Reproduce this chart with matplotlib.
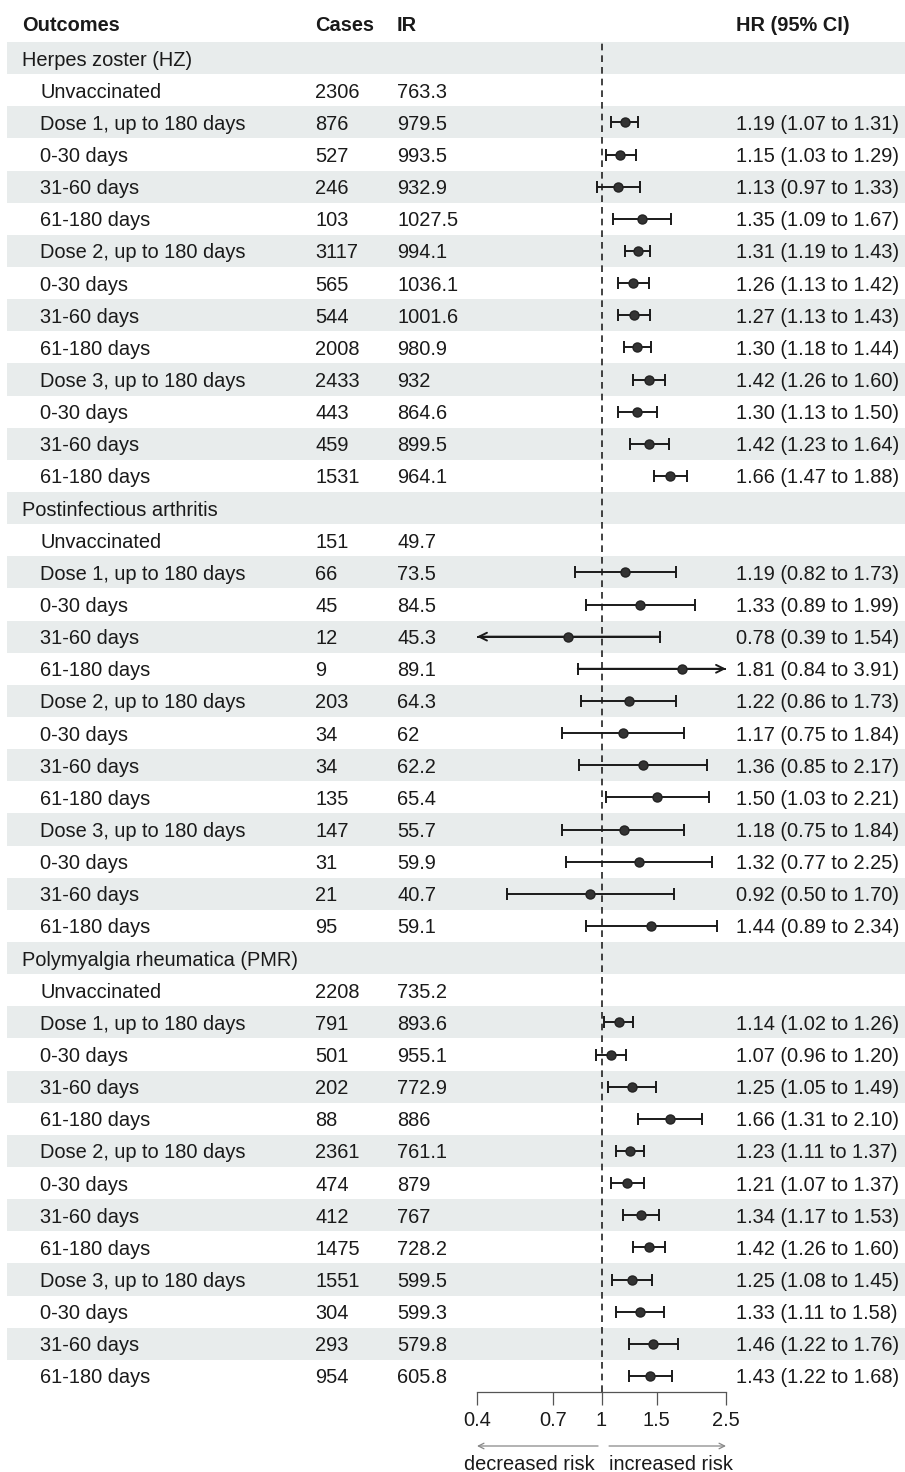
import matplotlib.pyplot as plt
import numpy as np

plt.rcParams['font.family'] = ['Liberation Sans', 'DejaVu Sans']

groups = ["Herpes zoster (HZ)", "Postinfectious arthritis", "Polymyalgia rheumatica (PMR)"]
periods = ["Unvaccinated", "Dose 1, up to 180 days", "0-30 days", "31-60 days", "61-180 days",
           "Dose 2, up to 180 days", "0-30 days", "31-60 days", "61-180 days",
           "Dose 3, up to 180 days", "0-30 days", "31-60 days", "61-180 days"]

hz_cases = [2306, 876, 527, 246, 103, 3117, 565, 544, 2008, 2433, 443, 459, 1531]
hz_ir = ["763.3", "979.5", "993.5", "932.9", "1027.5", "994.1", "1036.1", "1001.6", "980.9",
         "932", "864.6", "899.5", "964.1"]
hz_hr = [None, 1.19, 1.15, 1.13, 1.35, 1.31, 1.26, 1.27, 1.30, 1.42, 1.30, 1.42, 1.66]
hz_lo = [None, 1.07, 1.03, 0.97, 1.09, 1.19, 1.13, 1.13, 1.18, 1.26, 1.13, 1.23, 1.47]
hz_hi = [None, 1.31, 1.29, 1.33, 1.67, 1.43, 1.42, 1.43, 1.44, 1.60, 1.50, 1.64, 1.88]

pa_cases = [151, 66, 45, 12, 9, 203, 34, 34, 135, 147, 31, 21, 95]
pa_ir = ["49.7", "73.5", "84.5", "45.3", "89.1", "64.3", "62", "62.2", "65.4", "55.7",
         "59.9", "40.7", "59.1"]
pa_hr = [None, 1.19, 1.33, 0.78, 1.81, 1.22, 1.17, 1.36, 1.50, 1.18, 1.32, 0.92, 1.44]
pa_lo = [None, 0.82, 0.89, 0.39, 0.84, 0.86, 0.75, 0.85, 1.03, 0.75, 0.77, 0.50, 0.89]
pa_hi = [None, 1.73, 1.99, 1.54, 3.91, 1.73, 1.84, 2.17, 2.21, 1.84, 2.25, 1.70, 2.34]

pmr_cases = [2208, 791, 501, 202, 88, 2361, 474, 412, 1475, 1551, 304, 293, 954]
pmr_ir = ["735.2", "893.6", "955.1", "772.9", "886", "761.1", "879", "767", "728.2",
          "599.5", "599.3", "579.8", "605.8"]
pmr_hr = [None, 1.14, 1.07, 1.25, 1.66, 1.23, 1.21, 1.34, 1.42, 1.25, 1.33, 1.46, 1.43]
pmr_lo = [None, 1.02, 0.96, 1.05, 1.31, 1.11, 1.07, 1.17, 1.26, 1.08, 1.11, 1.22, 1.22]
pmr_hi = [None, 1.26, 1.20, 1.49, 2.10, 1.37, 1.37, 1.53, 1.60, 1.45, 1.58, 1.76, 1.68]

x_ticks = [0.4, 0.7, 1, 1.5, 2.5]
x_ticklabels = ["0.4", "0.7", "1", "1.5", "2.5"]

# build rows: group header followed by its periods
rows = []
blocks = [(hz_cases, hz_ir, hz_hr, hz_lo, hz_hi),
          (pa_cases, pa_ir, pa_hr, pa_lo, pa_hi),
          (pmr_cases, pmr_ir, pmr_hr, pmr_lo, pmr_hi)]
for g, (cases, ir, hr, lo, hi) in zip(groups, blocks):
    rows.append(dict(label=g, header=True))
    for i, p in enumerate(periods):
        rows.append(dict(label=p, header=False, cases=cases[i], ir=ir[i],
                         hr=hr[i], lo=lo[i], hi=hi[i]))

n = len(rows)
W, H = 905, 1472
top_px, bot_px = 42, 1392
fs = 14.4
txt = '#1a1a1a'
va = 'center_baseline'

fig = plt.figure(figsize=(W / 100, H / 100), dpi=100)
ax_box = [0, 1 - bot_px / H, 1, (bot_px - top_px) / H]
ax = fig.add_axes(ax_box)
ax.set_xlim(0, W)
ax.set_ylim(n - 0.5, -0.5)
ax.axis('off')

for i, r in enumerate(rows):
    if i % 2 == 0:
        ax.axhspan(i - 0.5, i + 0.5, xmin=7 / W, xmax=1, color='#E8ECEC', lw=0, zorder=0)
    if r['header']:
        ax.text(22, i, r['label'], fontsize=fs, va=va, color=txt)
        continue
    ax.text(40, i, r['label'], fontsize=fs, va=va, color=txt)
    ax.text(315, i, str(r['cases']), fontsize=fs, va=va, color=txt)
    ax.text(397, i, r['ir'], fontsize=fs, va=va, color=txt)
    if r['hr'] is not None:
        ax.text(736, i, f"{r['hr']:.2f} ({r['lo']:.2f} to {r['hi']:.2f})",
                fontsize=fs, va=va, color=txt)

hy = -1.08
ax.text(22, hy, "Outcomes", fontsize=fs, fontweight='bold', va=va, color=txt)
ax.text(315, hy, "Cases", fontsize=fs, fontweight='bold', va=va, color=txt)
ax.text(397, hy, "IR", fontsize=fs, fontweight='bold', va=va, color=txt)
ax.text(736, hy, "HR (95% CI)", fontsize=fs, fontweight='bold', va=va, color=txt)

# forest panel
x0, x1 = 477, 726
fx = fig.add_axes([x0 / W, ax_box[1], (x1 - x0) / W, ax_box[3]])
fx.patch.set_alpha(0)
fx.set_xscale('log')
xmin, xmax = 0.4, 2.5
fx.set_xlim(xmin, xmax)
fx.set_ylim(n - 0.5, -0.5)
for s in ['top', 'left', 'right']:
    fx.spines[s].set_visible(False)
fx.spines['bottom'].set_color('#555555')
fx.spines['bottom'].set_linewidth(0.9)
fx.set_yticks([])
fx.set_xticks(x_ticks)
fx.set_xticklabels(x_ticklabels)
fx.minorticks_off()
fx.tick_params(axis='x', direction='out', length=9, width=0.9, color='#555555',
               labelsize=fs, labelcolor=txt, pad=5)

fx.axvline(1, color='#222222', lw=1.2, ls=(0, (4, 3)), zorder=1)

for i, r in enumerate(rows):
    if r['header'] or r['hr'] is None:
        continue
    lo_c = max(r['lo'], xmin)
    hi_c = min(r['hi'], xmax)
    fx.plot([lo_c, hi_c], [i, i], color='#1a1a1a', lw=1.4, zorder=2, solid_capstyle='butt')
    if r['lo'] >= xmin:
        fx.plot([r['lo']], [i], marker='|', ms=9, mew=1.4, color='#1a1a1a', zorder=2)
    else:
        fx.annotate("", xy=(xmin, i), xytext=(hi_c, i), annotation_clip=False,
                    arrowprops=dict(arrowstyle='->', color='#1a1a1a', lw=1.4,
                                    mutation_scale=14, shrinkA=0, shrinkB=0))
    if r['hi'] <= xmax:
        fx.plot([r['hi']], [i], marker='|', ms=9, mew=1.4, color='#1a1a1a', zorder=2)
    else:
        fx.annotate("", xy=(xmax, i), xytext=(lo_c, i), annotation_clip=False,
                    arrowprops=dict(arrowstyle='->', color='#1a1a1a', lw=1.4,
                                    mutation_scale=14, shrinkA=0, shrinkB=0))
    fx.plot([r['hr']], [i], marker='o', ms=6.5, color='#333333', mec='#222222', zorder=3)

# risk direction arrows
ya = 1 - 1446 / H
yt = 1 - 1463 / H
fx.annotate("", xy=(xmin, ya), xytext=(0.975, ya), xycoords=('data', 'figure fraction'),
            textcoords=('data', 'figure fraction'), annotation_clip=False,
            arrowprops=dict(arrowstyle='->', color='#888888', lw=0.9, mutation_scale=10,
                            shrinkA=0, shrinkB=0))
fx.annotate("", xy=(xmax, ya), xytext=(1.057, ya), xycoords=('data', 'figure fraction'),
            textcoords=('data', 'figure fraction'), annotation_clip=False,
            arrowprops=dict(arrowstyle='->', color='#888888', lw=0.9, mutation_scale=10,
                            shrinkA=0, shrinkB=0))
fx.annotate("decreased risk", xy=(0.586, yt), xycoords=('data', 'figure fraction'),
            ha='center', va=va, fontsize=fs, color=txt, annotation_clip=False)
fx.annotate("increased risk", xy=(1.667, yt), xycoords=('data', 'figure fraction'),
            ha='center', va=va, fontsize=fs, color=txt, annotation_clip=False)

fig.savefig("out.png", dpi=100)
